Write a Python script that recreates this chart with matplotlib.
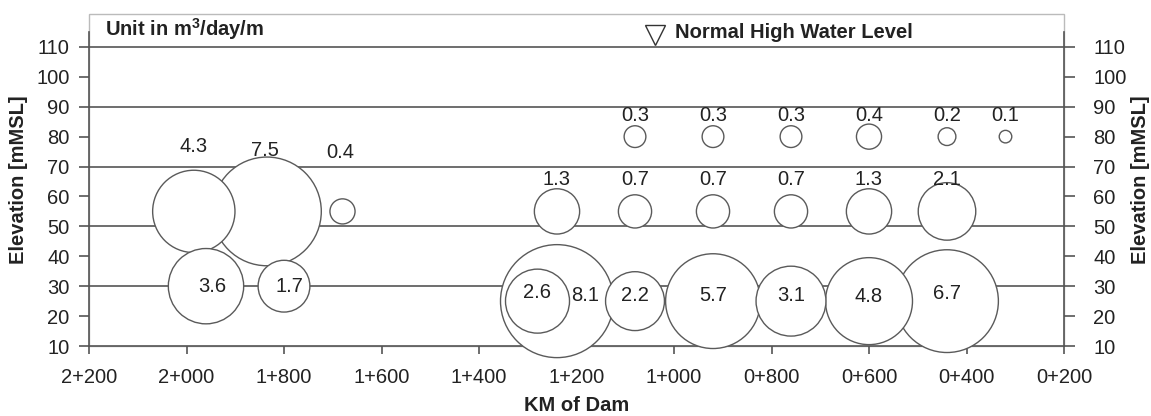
import matplotlib
matplotlib.use('Agg')
import matplotlib.pyplot as plt
from matplotlib.patches import Rectangle

plt.rcParams['font.family'] = ['Liberation Sans', 'DejaVu Sans']
plt.rcParams['mathtext.fontset'] = 'custom'
plt.rcParams['mathtext.rm'] = 'Liberation Sans'
plt.rcParams['mathtext.bf'] = 'Liberation Sans:bold'

# Seepage rate (m3/day/m) at each station / elevation
row80_km = [1080, 920, 760, 600, 440, 320]
row80_q = [0.3, 0.3, 0.3, 0.4, 0.2, 0.1]
row55_km = [1985, 1835, 1680, 1240, 1080, 920, 760, 600, 440]
row55_q = [4.3, 7.5, 0.4, 1.3, 0.7, 0.7, 0.7, 1.3, 2.1]
row30_km = [1960, 1800]
row30_q = [3.6, 1.7]
row25_km = [1280, 1240, 1080, 920, 760, 600, 440]
row25_q = [2.6, 8.1, 2.2, 5.7, 3.1, 4.8, 6.7]
row_elev = [80, 55, 30, 25]

x_ticks = [2200, 2000, 1800, 1600, 1400, 1200, 1000, 800, 600, 400, 200]
x_labels = ['2+200', '2+000', '1+800', '1+600', '1+400', '1+200',
            '1+000', '0+800', '0+600', '0+400', '0+200']
y_ticks = [10, 20, 30, 40, 50, 60, 70, 80, 90, 100, 110]
grid_levels = [30, 50, 70, 90, 110]

# label offsets in pixels (layout only)
off80 = [(0, 21)] * 6
off55 = [(0, 65), (-2, 61), (-2, 59), (0, 32), (0, 32), (0, 32), (0, 32), (0, 32), (0, 32)]
off30 = [(6, 0), (5, 0)]
off25 = [(0, 9), (28, 6), (0, 6), (0, 6), (0, 6), (0, 5), (0, 8)]

rows = [(row80_km, row80_q, off80), (row55_km, row55_q, off55),
        (row30_km, row30_q, off30), (row25_km, row25_q, off25)]

FS = 14.5
TXT = '#222222'
AX = '#555555'
SIZE_K = 817  # points^2 per unit of seepage

fig = plt.figure(figsize=(11.51, 4.16), dpi=100)
ax = fig.add_axes([89 / 1151, 70 / 416, 975 / 1151, 332 / 416])
ax.set_xlim(2200, 200)
ax.set_ylim(10, 121)

for lv in grid_levels:
    ax.axhline(lv, color=AX, lw=1.2, zorder=1)

# bubbles, biggest first so small ones stay visible
pts = []
for (kms, qs, offs), el in zip(rows, row_elev):
    for k, q, o in zip(kms, qs, offs):
        pts.append((k, el, q, o))
pts_sorted = sorted(pts, key=lambda p: -p[2])
ax.scatter([p[0] for p in pts_sorted], [p[1] for p in pts_sorted],
           s=[p[2] * SIZE_K for p in pts_sorted], facecolor='white',
           edgecolor='#5a5a5a', linewidth=1.0, zorder=3, clip_on=False)

for k, el, q, o in pts:
    ax.annotate(f'{q:.1f}', (k, el), xytext=o, textcoords='offset pixels',
                ha='center', va='center', fontsize=FS, color=TXT, zorder=5,
                annotation_clip=False)

# frame: light box, dark axes
for s in ax.spines.values():
    s.set_visible(False)
ax.add_patch(Rectangle((0, 0), 1, 1, transform=ax.transAxes, fill=False,
                       edgecolor='#bbbbbb', lw=1.0, zorder=0, clip_on=False))
ax.spines['bottom'].set_visible(True)
ax.spines['bottom'].set_color(AX)
ax.spines['bottom'].set_linewidth(1.2)
ax.spines['left'].set_visible(True)
ax.spines['left'].set_color(AX)
ax.spines['left'].set_linewidth(1.2)
ax.spines['left'].set_bounds(10, 115)

ax.set_xticks(x_ticks)
ax.set_xticklabels(x_labels)
ax.set_yticks(y_ticks)
ax.tick_params(axis='x', direction='out', length=6, width=1.2, color=AX,
               labelsize=FS, labelcolor=TXT, pad=10)
ax.tick_params(axis='y', direction='out', length=7, width=1.2, color=AX,
               labelsize=FS, labelcolor=TXT, pad=7)
ax.set_xlabel('KM of Dam', fontsize=FS, fontweight='bold', color=TXT, labelpad=6)
ax.set_ylabel('Elevation [mMSL]', fontsize=FS, fontweight='bold', color=TXT, labelpad=6)

ax2 = ax.twinx()
ax2.set_ylim(ax.get_ylim())
for s in ax2.spines.values():
    s.set_visible(False)
ax2.spines['right'].set_visible(True)
ax2.spines['right'].set_color(AX)
ax2.spines['right'].set_linewidth(1.2)
ax2.spines['right'].set_bounds(10, 115)
ax2.set_yticks(y_ticks)
ax2.tick_params(axis='y', direction='out', length=8, width=1.2, color=AX,
                labelsize=FS, labelcolor=TXT, pad=13)
ax2.set_ylabel('Elevation [mMSL]', fontsize=FS, fontweight='bold', color=TXT,
               labelpad=3)

ax.text(0.0164, 0.955, r'Unit in m$^{\mathbf{3}}$/day/m', transform=ax.transAxes,
        fontsize=FS, fontweight='bold', color=TXT, ha='left', va='center')
ax.plot([0.5805], [0.937], marker='v', ms=15, mfc='white', mec='#333333',
        mew=1.0, transform=ax.transAxes, clip_on=False, zorder=6)
ax.text(0.601, 0.943, 'Normal High Water Level', transform=ax.transAxes,
        fontsize=FS, fontweight='bold', color=TXT, ha='left', va='center')

fig.savefig('out.png', dpi=100)
